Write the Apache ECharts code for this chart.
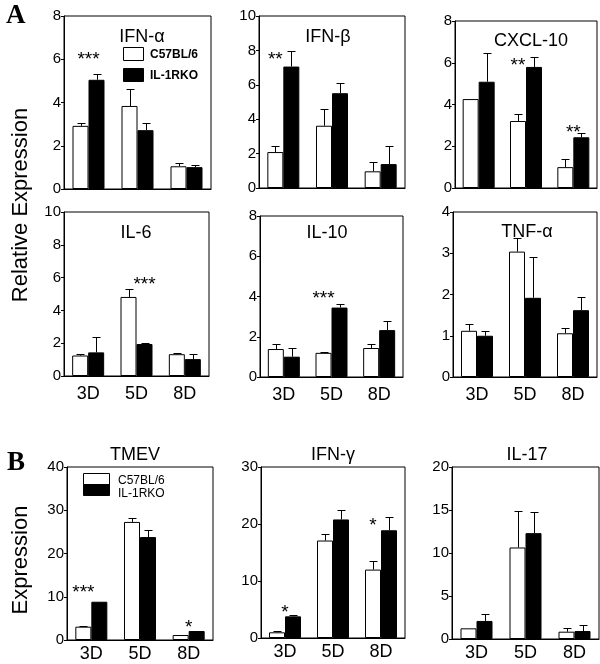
<!DOCTYPE html>
<html><head><meta charset="utf-8">
<script src="https://cdn.jsdelivr.net/npm/echarts@6/dist/echarts.min.js"></script>
<style>html,body{margin:0;padding:0;background:#fff}#c{width:600px;height:664px}</style>
</head><body><div id="c"></div>
<script>
// ---------- DATA ----------
const categories = ['3D', '5D', '8D'];

const ifnAlphaWT = [2.92, 3.84, 1.05], ifnAlphaWTErr = [0.14, 0.78, 0.17];
const ifnAlphaKO = [5.05, 2.72, 1.01], ifnAlphaKOErr = [0.28, 0.32, 0.10];

const ifnBetaWT = [2.09, 3.62, 0.97], ifnBetaWTErr = [0.33, 0.96, 0.52];
const ifnBetaKO = [7.06, 5.51, 1.39], ifnBetaKOErr = [0.93, 0.58, 1.03];

const cxcl10WT = [4.26, 3.21, 1.00], cxcl10WTErr = [0, 0.32, 0.38];
const cxcl10KO = [5.09, 5.80, 2.43], cxcl10KOErr = [1.40, 0.48, 0.19];

const il6WT = [1.25, 4.82, 1.33], il6WTErr = [0.08, 0.50, 0.08];
const il6KO = [1.44, 1.95, 1.03], il6KOErr = [0.92, 0.05, 0.30];

const il10WT = [1.39, 1.20, 1.44], il10WTErr = [0.26, 0.05, 0.21];
const il10KO = [1.01, 3.45, 2.33], il10KOErr = [0.45, 0.19, 0.45];

const tnfWT = [1.12, 3.04, 1.06], tnfWTErr = [0.16, 0.32, 0.12];
const tnfKO = [1.00, 1.92, 1.62], tnfKOErr = [0.12, 1.00, 0.32];

const tmevWT = [3.08, 27.3, 1.15], tmevWTErr = [0.25, 1.0, 0];
const tmevKO = [8.85, 23.8, 2.08], tmevKOErr = [0, 1.7, 0];

const ifnGammaWT = [1.00, 17.1, 12.0], ifnGammaWTErr = [0.17, 1.2, 1.45];
const ifnGammaKO = [3.80, 20.8, 18.9], ifnGammaKOErr = [0.18, 1.6, 2.3];

const il17WT = [1.24, 10.64, 0.85], il17WTErr = [0, 4.2, 0.39];
const il17KO = [2.10, 12.31, 0.93], il17KOErr = [0.77, 2.4, 0.67];

// significance marks: [category index, value, text, above which bar]
const ifnAlphaStars = [[0, 6.2, '***', 'mid']];
const ifnBetaStars = [[0, 7.75, '**', 'white']];
const cxcl10Stars = [[1, 6.1, '**', 'white'], [2, 2.9, '**', 'mid']];
const il6Stars = [[1, 5.85, '***', 'black']];
const il10Stars = [[1, 4.15, '***', 'white']];
const tnfStars = [];
const tmevStars = [[0, 12.0, '***', 'white'], [2, 3.9, '*', 'mid']];
const ifnGammaStars = [[0, 5.3, '*', 'mid'], [2, 20.6, '*', 'white']];
const il17Stars = [];

const yMax = [8, 10, 8, 10, 8, 4, 40, 30, 20];
const yStep = [2, 2, 2, 2, 2, 1, 10, 10, 5];
const panelNames = ['IFN-α', 'IFN-β', 'CXCL-10', 'IL-6', 'IL-10', 'TNF-α', 'TMEV', 'IFN-γ', 'IL-17'];
const seriesNames = ['C57BL/6', 'IL-1RKO'];

const panels = [
  [ifnAlphaWT, ifnAlphaWTErr, ifnAlphaKO, ifnAlphaKOErr, ifnAlphaStars],
  [ifnBetaWT, ifnBetaWTErr, ifnBetaKO, ifnBetaKOErr, ifnBetaStars],
  [cxcl10WT, cxcl10WTErr, cxcl10KO, cxcl10KOErr, cxcl10Stars],
  [il6WT, il6WTErr, il6KO, il6KOErr, il6Stars],
  [il10WT, il10WTErr, il10KO, il10KOErr, il10Stars],
  [tnfWT, tnfWTErr, tnfKO, tnfKOErr, tnfStars],
  [tmevWT, tmevWTErr, tmevKO, tmevKOErr, tmevStars],
  [ifnGammaWT, ifnGammaWTErr, ifnGammaKO, ifnGammaKOErr, ifnGammaStars],
  [il17WT, il17WTErr, il17KO, il17KOErr, il17Stars]
];

// ---------- LAYOUT / STYLE ----------
const FONT = 'Liberation Sans, Arial, sans-serif';
const BAR_W = 16, CAP = 4;
const layout = [
  {left: 64, top: 16, width: 147, height: 173},
  {left: 259, top: 16, width: 146, height: 172},
  {left: 455, top: 21, width: 142, height: 167},
  {left: 64, top: 212, width: 145, height: 164},
  {left: 260, top: 216, width: 143, height: 161},
  {left: 453, top: 212, width: 144, height: 165},
  {left: 67, top: 467, width: 146, height: 173},
  {left: 261, top: 467, width: 144, height: 171},
  {left: 452, top: 467, width: 147, height: 172}
];
const titlePos = [[137, 32], [323, 32], [526, 36], [131, 228], [322, 228], [522, 227], [130, 450], [328, 450], [522, 450]];
const xLabelMargin = [0, 0, 0, 9, 9, 9, 5, 5, 5];

const grid = [], xAxis = [], yAxis = [], series = [], title = [];
const anchorShift = {white: -BAR_W / 2, mid: 0, black: BAR_W / 2};

panels.forEach((p, i) => {
  const [wt, wtErr, ko, koErr, stars] = p;
  grid.push(Object.assign({show: true, borderColor: '#000', borderWidth: 1, backgroundColor: 'transparent', containLabel: false}, layout[i]));
  xAxis.push({
    type: 'category', gridIndex: i, data: categories,
    axisLine: {show: true, lineStyle: {color: '#000', width: 1}},
    axisTick: {show: false},
    axisLabel: {show: i >= 3, color: '#000', fontFamily: FONT, fontSize: 18, margin: xLabelMargin[i]}
  });
  yAxis.push({
    type: 'value', gridIndex: i, min: 0, max: yMax[i], interval: yStep[i],
    axisLine: {show: true, lineStyle: {color: '#000', width: 1}},
    axisTick: {show: true, length: 3, lineStyle: {color: '#000'}},
    splitLine: {show: false},
    axisLabel: {color: '#000', fontFamily: FONT, fontSize: 15, margin: 3}
  });
  title.push({
    text: panelNames[i], left: titlePos[i][0], top: titlePos[i][1],
    textAlign: 'center', textVerticalAlign: 'middle',
    textStyle: {fontFamily: FONT, fontSize: 18, fontWeight: 'normal', color: '#000'}
  });
  series.push({
    type: 'bar', name: seriesNames[0], xAxisIndex: i, yAxisIndex: i, data: wt,
    barWidth: BAR_W, barGap: '0%',
    itemStyle: {color: '#fff', borderColor: '#000', borderWidth: 1}
  });
  series.push({
    type: 'bar', name: seriesNames[1], xAxisIndex: i, yAxisIndex: i, data: ko,
    barWidth: BAR_W, barGap: '0%',
    itemStyle: {color: '#000', borderColor: '#000', borderWidth: 1}
  });
  const errData = [];
  wt.forEach((v, k) => errData.push([k, v, wtErr[k], 0]));
  ko.forEach((v, k) => errData.push([k, v, koErr[k], 1]));
  series.push({
    type: 'custom', xAxisIndex: i, yAxisIndex: i, data: errData, z: 5, silent: true,
    encode: {x: 0, y: 1},
    renderItem: function (params, api) {
      const cat = api.value(0), v = api.value(1), e = api.value(2), g = api.value(3);
      if (!(e > 0)) return null;
      const b = api.coord([cat, v]), t = api.coord([cat, v + e]);
      const x = Math.round(b[0] + (g === 0 ? -BAR_W / 2 : BAR_W / 2)) + 0.5;
      const y1 = b[1], y2 = Math.round(t[1]) + 0.5;
      return {type: 'group', children: [
        {type: 'line', shape: {x1: x, y1: y1, x2: x, y2: y2}, style: {stroke: '#000', lineWidth: 1}},
        {type: 'line', shape: {x1: x - CAP, y1: y2, x2: x + CAP, y2: y2}, style: {stroke: '#000', lineWidth: 1}}
      ]};
    }
  });
  if (stars.length) {
    series.push({
      type: 'custom', xAxisIndex: i, yAxisIndex: i, z: 6, silent: true,
      data: stars.map(s => [s[0], s[1], s[2], s[3]]),
      encode: {x: 0, y: 1},
      renderItem: function (params, api) {
        const s = stars[params.dataIndex];
        const c = api.coord([s[0], s[1]]);
        return {type: 'text', x: c[0] + anchorShift[s[3]], y: c[1] + 5,
          style: {text: s[2], fill: '#000', font: '19px ' + FONT, align: 'center', verticalAlign: 'middle'}};
      }
    });
  }
});

const graphic = [
  {type: 'text', left: 6, top: 3, style: {text: 'A', fill: '#000', font: 'bold 27px Liberation Serif, Times New Roman, serif'}},
  {type: 'text', left: 7, top: 450, style: {text: 'B', fill: '#000', font: 'bold 27px Liberation Serif, Times New Roman, serif'}},
  {type: 'text', x: 21, y: 205, rotation: Math.PI / 2, style: {text: 'Relative Expression', fill: '#000', font: '22px ' + FONT, align: 'center', verticalAlign: 'middle'}},
  {type: 'text', x: 21, y: 560, rotation: Math.PI / 2, style: {text: 'Expression', fill: '#000', font: '22px ' + FONT, align: 'center', verticalAlign: 'middle'}},
  // legend panel A
  {type: 'rect', shape: {x: 123.5, y: 47.5, width: 20, height: 13}, style: {fill: '#fff', stroke: '#000', lineWidth: 1}},
  {type: 'rect', shape: {x: 123.5, y: 68.5, width: 20, height: 13}, style: {fill: '#000', stroke: '#000', lineWidth: 1}},
  {type: 'text', x: 150, y: 55, style: {text: seriesNames[0], fill: '#000', font: 'bold 12px ' + FONT, verticalAlign: 'middle'}},
  {type: 'text', x: 150, y: 76, style: {text: seriesNames[1], fill: '#000', font: 'bold 12px ' + FONT, verticalAlign: 'middle'}},
  // legend panel B
  {type: 'rect', shape: {x: 83.5, y: 473.5, width: 26, height: 11}, style: {fill: '#fff', stroke: '#000', lineWidth: 1}},
  {type: 'rect', shape: {x: 83.5, y: 484.5, width: 26, height: 11}, style: {fill: '#000', stroke: '#000', lineWidth: 1}},
  {type: 'text', x: 118, y: 481, style: {text: seriesNames[0], fill: '#000', font: '12px ' + FONT, verticalAlign: 'middle'}},
  {type: 'text', x: 118, y: 494, style: {text: seriesNames[1], fill: '#000', font: '12px ' + FONT, verticalAlign: 'middle'}}
];

const chart = echarts.init(document.getElementById('c'), null, {renderer: 'canvas'});
chart.setOption({
  backgroundColor: '#fff', animation: false,
  title, grid, xAxis, yAxis, series, graphic
});
</script></body></html>
